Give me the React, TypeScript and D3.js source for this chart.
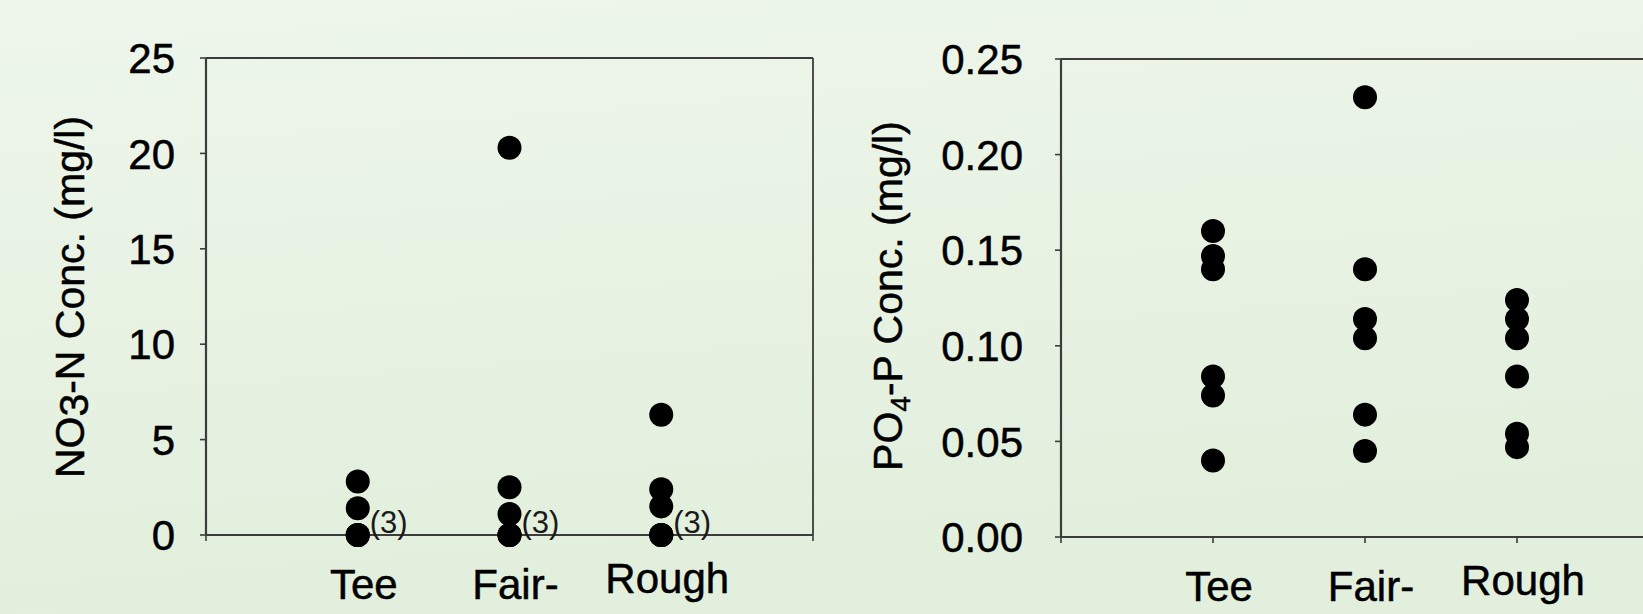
import React from 'react';
import { scaleLinear, format } from 'd3';

const width = 1643;
const height = 614;

const categories = ['Tee', 'Fair-', 'Rough'];

// NO3-N, mg/l (three overlapping zeros per group, marked "(3)")
const no3Tee = [0, 0, 0, 1.4, 2.8];
const no3Fair = [0, 0, 0, 1.1, 2.5, 20.3];
const no3Rough = [0, 0, 0, 1.5, 2.4, 6.3];

// PO4-P, mg/l
const po4Tee = [0.16, 0.147, 0.14, 0.084, 0.074, 0.04];
const po4Fair = [0.23, 0.14, 0.114, 0.104, 0.064, 0.045];
const po4Rough = [0.124, 0.114, 0.104, 0.084, 0.054, 0.047];

const no3Ticks = [0, 5, 10, 15, 20, 25];
const po4Ticks = [0, 0.05, 0.1, 0.15, 0.2, 0.25];

const font = '"Liberation Sans", Arial, sans-serif';
const axisColor = '#3c3c3c';
const ink = '#000';

const Panel = ({ x0, x1, y0, y1, yMax, ticks, tickFmt, tickPad, groups, title, showCatTicks, countLabel }) => {
  const x = scaleLinear().domain([0, 4]).range([x0, x1]);
  const y = scaleLinear().domain([0, yMax]).range([y0, y1]);
  const labelDy = [64, 64, 58];
  return (
    <g fontFamily={font}>
      {/* frame */}
      <line x1={x0} x2={x1} y1={y1} y2={y1} stroke={axisColor} strokeWidth={1.8} />
      <line x1={x1} x2={x1} y1={y1} y2={y0} stroke={axisColor} strokeWidth={1.8} />
      <line x1={x0} x2={x0} y1={y1} y2={y0} stroke={axisColor} strokeWidth={2.2} />
      <line x1={x0} x2={x1} y1={y0} y2={y0} stroke={axisColor} strokeWidth={2.2} />
      {ticks.map(t => (
        <g key={t}>
          <line x1={x0 - 6} x2={x0} y1={y(t)} y2={y(t)} stroke={axisColor} strokeWidth={1.6} />
          <text
            x={x0 - tickPad}
            y={y(t)}
            dy="0.36em"
            textAnchor="end"
            fontSize={42}
            fill={ink}
            stroke={ink}
            strokeWidth={0.5}
          >
            {tickFmt(t)}
          </text>
        </g>
      ))}
      <line x1={x0} x2={x0} y1={y0} y2={y0 + 6} stroke={axisColor} strokeWidth={1.6} />
      <line x1={x1} x2={x1} y1={y0} y2={y0 + 6} stroke={axisColor} strokeWidth={1.6} />
      {showCatTicks &&
        categories.map((c, i) => (
          <line key={c} x1={x(i + 1)} x2={x(i + 1)} y1={y0} y2={y0 + 6} stroke={axisColor} strokeWidth={1.6} />
        ))}
      {categories.map((c, i) => (
        <text
          key={c}
          x={x(i + 1) + 6}
          y={y0 + labelDy[i]}
          textAnchor="middle"
          fontSize={42}
          fill={ink}
          stroke={ink}
          strokeWidth={0.5}
        >
          {c}
        </text>
      ))}
      {groups.map((vals, i) =>
        vals.map((v, j) => <circle key={i + '-' + j} cx={x(i + 1)} cy={y(v)} r={12} fill="#000" />)
      )}
      {countLabel &&
        groups.map((vals, i) => (
          <text key={'n' + i} x={x(i + 1) + 12} y={y(0) - 2} fontSize={31} fill="#1a1a1a">
            (3)
          </text>
        ))}
      {title}
    </g>
  );
};

const App = () => {
  return (
    <svg width={width} height={height} style={{ position: 'absolute', left: 0, top: 0 }}>
      <defs>
        <linearGradient id="bg" x1="0" y1="0" x2="0.2" y2="1">
          <stop offset="0" stopColor="#eef6eb" />
          <stop offset="1" stopColor="#e2efdc" />
        </linearGradient>
      </defs>
      <rect width={width} height={height} fill="url(#bg)" />
      <Panel
        x0={206}
        x1={813}
        y0={535}
        y1={58}
        yMax={25}
        ticks={no3Ticks}
        tickFmt={format('d')}
        tickPad={31}
        groups={[no3Tee, no3Fair, no3Rough]}
        showCatTicks={false}
        countLabel={true}
        title={
          <text
            transform="translate(70,297) rotate(-90)"
            textAnchor="middle"
            dy="0.35em"
            fontSize={41}
            fill={ink}
            stroke={ink}
            strokeWidth={0.5}
          >
            NO<tspan dy="4">3</tspan>
            <tspan dy="-4">-N Conc.  (mg/l)</tspan>
          </text>
        }
      />
      <Panel
        x0={1061}
        x1={1669}
        y0={537}
        y1={59}
        yMax={0.25}
        ticks={po4Ticks}
        tickFmt={format('.2f')}
        tickPad={38}
        groups={[po4Tee, po4Fair, po4Rough]}
        showCatTicks={true}
        countLabel={false}
        title={
          <text
            transform="translate(888,296) rotate(-90)"
            textAnchor="middle"
            dy="0.35em"
            fontSize={41}
            fill={ink}
            stroke={ink}
            strokeWidth={0.5}
          >
            PO<tspan dy="8" fontSize={28}>4</tspan>
            <tspan dy="-8">-P Conc. (mg/l)</tspan>
          </text>
        }
      />
    </svg>
  );
};

export default App;
